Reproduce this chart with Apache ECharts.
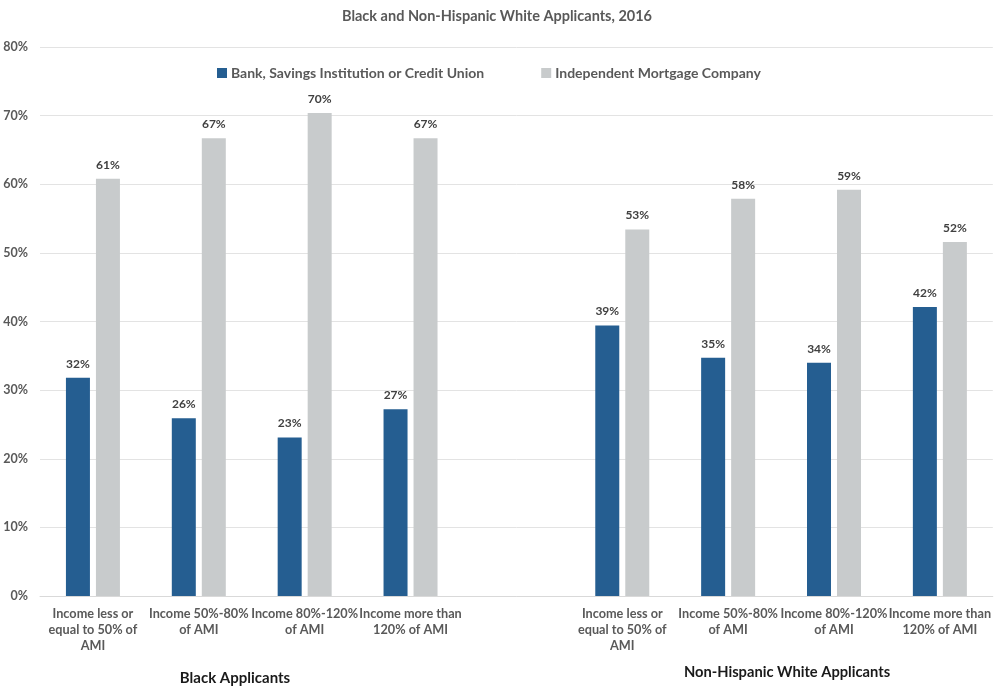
<!DOCTYPE html>
<html>
<head>
<meta charset="utf-8">
<script src="https://cdn.jsdelivr.net/npm/echarts@6/dist/echarts.min.js"></script>
<style>
  html, body { margin: 0; padding: 0; background: #ffffff; }
  #chart { width: 994px; height: 688px; }
</style>
</head>
<body>
<div id="chart"></div>
<script>
// Income bands, repeated for each applicant group with an empty spacer slot between groups
const categories = [
  'Income less or\nequal to 50% of\nAMI', 'Income 50%-80%\nof AMI', 'Income 80%-120%\nof AMI', 'Income more than\n120% of AMI',
  '',
  'Income less or\nequal to 50% of\nAMI', 'Income 50%-80%\nof AMI', 'Income 80%-120%\nof AMI', 'Income more than\n120% of AMI'
];
const seriesNames = ['Bank, Savings Institution or Credit Union', 'Independent Mortgage Company'];
// Percentages; '-' is the spacer slot
const bankValues = [31.8, 25.9, 23.1, 27.2, '-', 39.4, 34.7, 34.0, 42.1];
const mortgageValues = [60.8, 66.7, 70.4, 66.7, '-', 53.4, 57.9, 59.2, 51.6];
const groupLabels = ['Black Applicants', 'Non-Hispanic White Applicants'];
const yTicks = { min: 0, max: 80, interval: 10 };

const FONT = 'Lato, "Open Sans", sans-serif';
const chart = echarts.init(document.getElementById('chart'));

const valueLabel = {
  show: true,
  position: 'top',
  distance: 8,
  fontFamily: FONT,
  fontWeight: 'bold',
  fontSize: 12,
  color: '#404040',
  formatter: p => Math.round(p.value) + '%'
};

chart.setOption({
  animation: false,
  title: {
    text: 'Black and Non-Hispanic White Applicants, 2016',
    left: 'center',
    top: 4,
    textStyle: { fontFamily: FONT, fontSize: 14.5, fontWeight: 'bold', color: '#595959' }
  },
  legend: {
    top: 61,
    left: 212,
    itemWidth: 10,
    itemHeight: 10,
    itemGap: 57,
    icon: 'rect',
    textStyle: { fontFamily: FONT, fontSize: 14, fontWeight: 'bold', color: '#595959', padding: [0, 0, 0, -1] },
    data: seriesNames
  },
  grid: { left: 40, right: 0, top: 47, bottom: 92, containLabel: false },
  xAxis: {
    type: 'category',
    data: categories,
    axisLine: { show: true, lineStyle: { color: '#d9d9d9', width: 1 } },
    axisTick: { show: false },
    axisLabel: {
      interval: 0,
      margin: 10,
      fontFamily: FONT,
      fontSize: 12.7,
      fontWeight: 'bold',
      color: '#595959',
      lineHeight: 16
    }
  },
  yAxis: {
    type: 'value',
    min: yTicks.min,
    max: yTicks.max,
    interval: yTicks.interval,
    axisLine: { show: false },
    axisTick: { show: false },
    axisLabel: {
      margin: 12,
      fontFamily: FONT,
      fontSize: 12.5,
      fontWeight: 'bold',
      color: '#595959',
      formatter: '{value}%'
    },
    splitLine: { lineStyle: { color: '#e3e3e3', width: 1 } }
  },
  series: [
    {
      name: seriesNames[0],
      type: 'bar',
      data: bankValues,
      barWidth: 24,
      barGap: '25%',
      itemStyle: { color: '#255e91' },
      label: valueLabel
    },
    {
      name: seriesNames[1],
      type: 'bar',
      data: mortgageValues,
      barWidth: 24,
      barGap: '25%',
      itemStyle: { color: '#c8cbcc' },
      label: valueLabel
    }
  ],
  graphic: [
    {
      type: 'text',
      x: 235, y: 678,
      style: { text: groupLabels[0], fontFamily: FONT, fontSize: 15, fontWeight: 'bold', fill: '#1a1a1a', align: 'center', verticalAlign: 'middle' }
    },
    {
      type: 'text',
      x: 787, y: 672,
      style: { text: groupLabels[1], fontFamily: FONT, fontSize: 14.7, fontWeight: 'bold', fill: '#1a1a1a', align: 'center', verticalAlign: 'middle' }
    }
  ]
});
</script>
</body>
</html>
